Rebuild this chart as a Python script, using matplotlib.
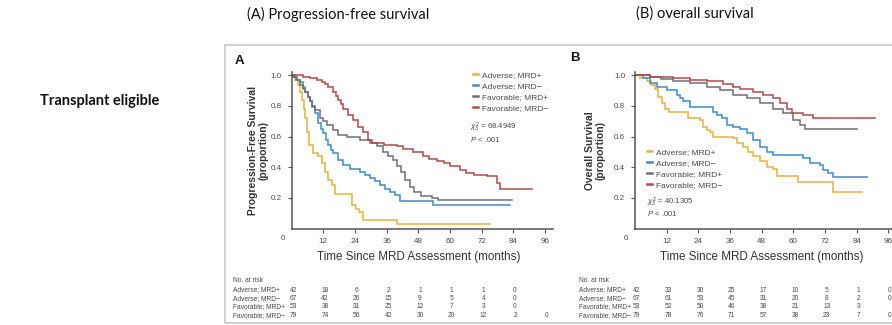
import matplotlib
matplotlib.use('Agg')
import matplotlib.pyplot as plt
import matplotlib.transforms as mtransforms
from matplotlib.patches import Rectangle

plt.rcParams['font.family'] = ['Liberation Sans', 'DejaVu Sans']
plt.rcParams['mathtext.fontset'] = 'custom'
plt.rcParams['mathtext.rm'] = 'Liberation Sans'
plt.rcParams['mathtext.it'] = 'Liberation Sans:italic'

# ---------------- data ----------------
groups = ['Adverse; MRD+', 'Adverse; MRD\u2212', 'Favorable; MRD+', 'Favorable; MRD\u2212']
group_n = [42, 67, 53, 79]
colors = ['#E3B43C', '#3E8BCB', '#707070', '#B04A4D']

# Panel A: progression-free survival (step change points: months, proportion)
pfs_adv_pos_t = [0, 1.2, 2.2, 3.2, 4.0, 4.6, 5.2, 5.8, 6.5, 8.2, 10.1, 11.4, 12.6, 13.9, 15.2, 16.4,
                 22.7, 24.2, 25.5, 27.1, 39.7, 75.0]
pfs_adv_pos_s = [1.0, 0.97, 0.935, 0.89, 0.84, 0.78, 0.72, 0.63, 0.545, 0.49, 0.47, 0.425, 0.37, 0.32,
                 0.285, 0.225, 0.155, 0.13, 0.11, 0.055, 0.03, 0.03]
pfs_adv_neg_t = [0, 0.6, 1.8, 3.2, 4.2, 5.1, 6.0, 6.9, 7.8, 8.8, 10.1, 11.0, 12.0, 13.0, 13.9, 14.8,
                 15.8, 17.7, 19.6, 22.1, 25.9, 27.8, 29.7, 31.6, 33.5, 35.3, 37.2, 39.1, 41.0, 53.6, 82.7]
pfs_adv_neg_s = [1.0, 0.99, 0.97, 0.957, 0.92, 0.89, 0.86, 0.83, 0.79, 0.75, 0.686, 0.65, 0.62, 0.58,
                 0.545, 0.515, 0.49, 0.447, 0.415, 0.39, 0.37, 0.35, 0.33, 0.31, 0.285, 0.26, 0.24,
                 0.22, 0.18, 0.155, 0.155]
pfs_fav_pos_t = [0, 1.0, 1.9, 3.2, 4.2, 5.1, 6.0, 6.9, 7.8, 8.8, 10.7, 12.0, 13.3, 15.8, 17.7, 20.8,
                 25.9, 29.7, 32.2, 34.7, 36.5, 38.5, 40.0, 41.5, 43.0, 44.8, 46.5, 49.0, 53.0, 55.5, 83.3]
pfs_fav_pos_s = [1.0, 0.985, 0.967, 0.935, 0.91, 0.89, 0.86, 0.83, 0.80, 0.77, 0.72, 0.70, 0.675,
                 0.64, 0.61, 0.60, 0.58, 0.555, 0.535, 0.50, 0.475, 0.447, 0.41, 0.37, 0.32, 0.27,
                 0.24, 0.21, 0.20, 0.185, 0.185]
pfs_fav_neg_t = [0, 4.4, 6.9, 9.5, 11.4, 12.6, 13.9, 15.8, 16.8, 17.7, 18.6, 19.6, 21.5, 23.4, 25.3,
                 27.1, 29.0, 30.3, 35.0, 39.8, 42.3, 46.1, 49.8, 52.0, 54.9, 57.5, 60.0, 63.8, 66.0,
                 68.9, 73.9, 77.7, 79.0, 91.0]
pfs_fav_neg_s = [1.0, 0.99, 0.98, 0.97, 0.957, 0.94, 0.92, 0.89, 0.865, 0.84, 0.81, 0.78, 0.74, 0.71,
                 0.66, 0.63, 0.58, 0.555, 0.545, 0.535, 0.52, 0.50, 0.47, 0.455, 0.44, 0.425, 0.41,
                 0.38, 0.365, 0.35, 0.34, 0.30, 0.26, 0.26]

# Panel B: overall survival
os_adv_pos_t = [0, 2.0, 4.4, 6.0, 7.6, 8.8, 10.1, 11.4, 13.0, 20.2, 24.6, 25.9, 27.2, 28.4, 29.7,
                37.2, 38.5, 41.0, 42.9, 44.8, 47.3, 49.9, 52.4, 53.7, 61.9, 75.1, 85.9]
os_adv_pos_s = [1.0, 0.98, 0.96, 0.935, 0.91, 0.86, 0.82, 0.78, 0.76, 0.72, 0.71, 0.66, 0.645, 0.63,
                0.60, 0.59, 0.555, 0.53, 0.50, 0.47, 0.44, 0.40, 0.39, 0.34, 0.305, 0.24, 0.24]
os_adv_neg_t = [0, 3.2, 5.7, 8.2, 12.0, 15.8, 17.0, 18.3, 20.8, 29.7, 31.2, 32.8, 34.7, 37.2, 39.8,
                42.3, 44.8, 47.3, 49.9, 52.4, 63.8, 66.3, 70.1, 71.3, 73.0, 75.1, 87.8]
os_adv_neg_s = [1.0, 0.98, 0.95, 0.92, 0.90, 0.87, 0.85, 0.83, 0.79, 0.76, 0.74, 0.72, 0.675, 0.665,
                0.65, 0.62, 0.58, 0.53, 0.50, 0.48, 0.46, 0.43, 0.415, 0.38, 0.36, 0.335, 0.335]
os_fav_pos_t = [0, 5.7, 10.0, 14.5, 20.8, 27.1, 32.2, 37.2, 42.3, 47.3, 52.4, 56.2, 60.0, 62.5, 64.4, 84.0]
os_fav_pos_s = [1.0, 0.985, 0.975, 0.96, 0.95, 0.92, 0.90, 0.87, 0.85, 0.82, 0.78, 0.75, 0.71, 0.675,
                0.65, 0.65]
os_fav_neg_t = [0, 5.7, 14.5, 20.8, 27.1, 33.5, 37.0, 39.8, 44.8, 48.6, 52.4, 54.9, 57.4, 59.3, 63.8,
                67.6, 90.9]
os_fav_neg_s = [1.0, 0.99, 0.98, 0.97, 0.96, 0.94, 0.925, 0.91, 0.89, 0.87, 0.85, 0.82, 0.78, 0.75,
                0.74, 0.72, 0.72]

# Numbers at risk (columns at 0, 12, ..., 96 months)
risk_times = [0, 12, 24, 36, 48, 60, 72, 84, 96]
pfs_risk = [
    [42, 18, 6, 2, 1, 1, 1, 0],
    [67, 42, 26, 15, 9, 5, 4, 0],
    [53, 38, 31, 25, 12, 7, 3, 0],
    [79, 74, 56, 42, 30, 20, 12, 2, 0],
]
os_risk = [
    [42, 33, 30, 25, 17, 10, 5, 1, 0],
    [67, 61, 53, 45, 31, 20, 8, 2, 0],
    [53, 52, 50, 46, 38, 21, 13, 3],
    [79, 78, 76, 71, 57, 38, 23, 7, 0],
]

x_ticks = [12, 24, 36, 48, 60, 72, 84, 96]
y_ticks = [0.2, 0.4, 0.6, 0.8, 1.0]

# ---------------- figure ----------------
W, H = 892, 325
fig = plt.figure(figsize=(W / 100, H / 100), dpi=100)


def fx(px):
    return px / W


def fy(py):
    return 1 - py / H


TXT = '#4a4a4a'

# outer frame
fig.patches.append(Rectangle((fx(225), fy(323)), fx(900) - fx(225), fy(45) - fy(323),
                             transform=fig.transFigure, fill=False, edgecolor='#c9c9c9', lw=1.2))

fig.text(fx(40), fy(101), 'Transplant eligible', family=['Lato', 'DejaVu Sans'],
         fontweight='bold', fontsize=10.5, ha='left', va='center', color='#111111')
fig.text(fx(247), fy(14), '(A) Progression-free survival', family=['Lato', 'DejaVu Sans'],
         fontsize=10.5, ha='left', va='center', color='#111111')
fig.text(fx(636), fy(14), '(B) overall survival', family=['Lato', 'DejaVu Sans'],
         fontsize=10.5, ha='left', va='center', color='#111111')

panels = [
    dict(left=291.7, letter='A', letter_xy=(235, 61),
         ylabel='Progression-Free Survival\n(proportion)', ylab_x=-0.128,
         curves=[(pfs_adv_pos_t, pfs_adv_pos_s), (pfs_adv_neg_t, pfs_adv_neg_s),
                 (pfs_fav_pos_t, pfs_fav_pos_s), (pfs_fav_neg_t, pfs_fav_neg_s)],
         leg_anchor=(0.695, 1.005), stat=('$\\chi^2_3$ = 68.4949', (0.683, 0.645), (0.683, 0.568)),
         risk=pfs_risk, risk_label_x=233),
    dict(left=635.0, letter='B', letter_xy=(570, 58),
         ylabel='Overall Survival\n(proportion)', ylab_x=-0.153,
         curves=[(os_adv_pos_t, os_adv_pos_s), (os_adv_neg_t, os_adv_neg_s),
                 (os_fav_pos_t, os_fav_pos_s), (os_fav_neg_t, os_fav_neg_s)],
         leg_anchor=(0.046, 0.515), stat=('$\\chi^2_3$ = 40.1305', (0.046, 0.17), (0.046, 0.10)),
         risk=os_risk, risk_label_x=579),
]

PX_PER_MONTH = 2.64
XMAX = 99
YMAX = 1.02
Y0 = 228.75
PX_PER_UNIT = 153.75

for p in panels:
    ax = fig.add_axes([fx(p['left']), fy(Y0), XMAX * PX_PER_MONTH / W, YMAX * PX_PER_UNIT / H])
    ax.set_xlim(0, XMAX)
    ax.set_ylim(0, YMAX)
    ax.patch.set_alpha(0)
    handles = []
    for (t, s), c, g in zip(p['curves'], colors, groups):
        ln, = ax.step(t, s, where='post', color=c, lw=1.1, label=g, solid_joinstyle='miter')
        handles.append(ln)
    for side in ['top', 'right']:
        ax.spines[side].set_visible(False)
    for side in ['left', 'bottom']:
        ax.spines[side].set_color('#555555')
        ax.spines[side].set_linewidth(1.1)
    ax.set_xticks(x_ticks)
    ax.set_xticklabels([str(v) for v in x_ticks])
    ax.set_yticks(y_ticks)
    ax.set_yticklabels(['%.1f' % v for v in y_ticks])
    ax.tick_params(axis='both', direction='out', length=3, width=0.8, color='#555555',
                   labelsize=5.8, labelcolor=TXT)
    ax.tick_params(axis='x', pad=4)
    ax.tick_params(axis='y', pad=4)
    ax.annotate('0', xy=(0, 0), xytext=(-9, -9.5), textcoords='offset pixels',
                fontsize=5.8, color=TXT, ha='center', va='center')
    ax.text(p['ylab_x'], 0.5, p['ylabel'], transform=ax.transAxes, rotation=90,
            ha='center', va='center', fontsize=7.4, fontweight='bold', color='#333333',
            linespacing=1.0)
    fig.text(fx(p['letter_xy'][0]), fy(p['letter_xy'][1]), p['letter'], fontsize=9.5,
             fontweight='bold', ha='left', va='center', color='#111111')

    leg = ax.legend(handles=handles, loc='upper left', bbox_to_anchor=p['leg_anchor'],
                    frameon=False, fontsize=6, handlelength=0.6, handletextpad=0.45,
                    labelspacing=0.38, borderpad=0, borderaxespad=0, labelcolor=TXT)
    for h in leg.legend_handles:
        h.set_linewidth(1.8)
    stat_txt, pos1, pos2 = p['stat']
    ax.text(pos1[0], pos1[1], stat_txt, transform=ax.transAxes, fontsize=5.6, color=TXT,
            ha='left', va='center')
    ax.text(pos2[0], pos2[1], '$P$ < .001', transform=ax.transAxes, fontsize=5.6, color=TXT,
            ha='left', va='center')

    blend = mtransforms.blended_transform_factory(ax.transData, fig.transFigure)
    ax.text(48, fy(257), 'Time Since MRD Assessment (months)', transform=blend,
            ha='center', va='center', fontsize=8.4, color='#333333', clip_on=False)

    fig.text(fx(p['risk_label_x']), fy(281), 'No. at risk', fontsize=4.8, color=TXT,
             ha='left', va='center')
    row_y = [290, 298.5, 307, 315.5]
    for g, row, yy in zip(groups, p['risk'], row_y):
        fig.text(fx(p['risk_label_x']), fy(yy), g, fontsize=4.8, color=TXT, ha='left', va='center')
        for tt, v in zip(risk_times, row):
            ax.text(tt + 0.6, fy(yy), str(v), transform=blend, fontsize=4.8, color=TXT,
                    ha='center', va='center', clip_on=False)

fig.savefig('out.png', dpi=100)
